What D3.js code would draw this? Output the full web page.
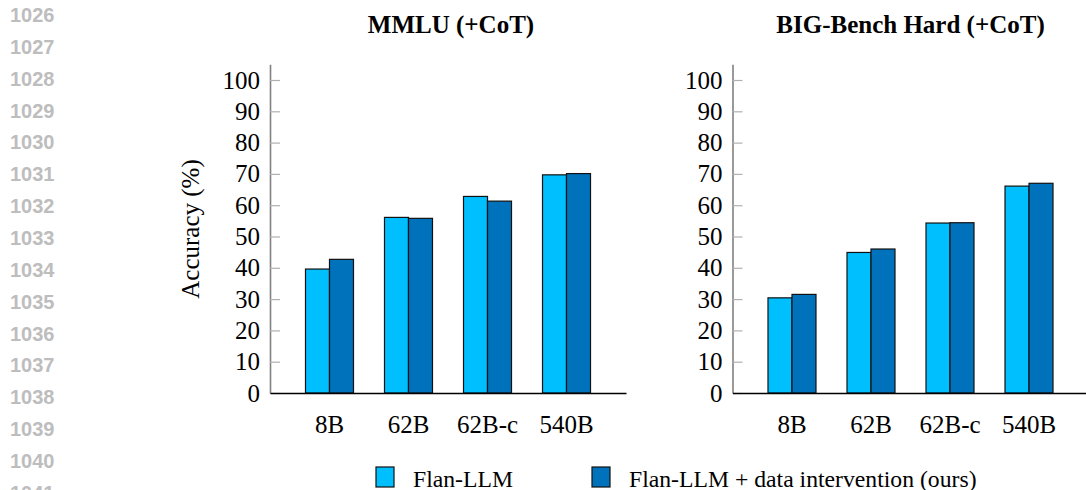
<!DOCTYPE html>
<html>
<head>
<meta charset="utf-8">
<script src="https://cdn.jsdelivr.net/npm/d3@7"></script>
<style>
  html, body { margin: 0; padding: 0; background: #fff; }
  svg { display: block; }
</style>
</head>
<body>
<svg id="chart" width="1086" height="490"></svg>
<script>
// Model sizes shown on the x axis
const categories = ["8B", "62B", "62B-c", "540B"];
const seriesNames = ["Flan-LLM", "Flan-LLM + data intervention (ours)"];
const yTicks = [0, 10, 20, 30, 40, 50, 60, 70, 80, 90, 100];
const lineNumbers = [1026, 1027, 1028, 1029, 1030, 1031, 1032, 1033, 1034, 1035, 1036, 1037, 1038, 1039, 1040, 1041];

// Accuracy (%) per benchmark
const mmluBase = [39.6, 56.1, 62.8, 69.7];
const mmluOurs = [42.7, 55.8, 61.3, 70.1];
const bbhBase = [30.4, 44.9, 54.3, 66.1];
const bbhOurs = [31.5, 46.0, 54.4, 67.0];

const panels = [
  { title: "MMLU (+CoT)", base: mmluBase, ours: mmluOurs, left: 270, titleX: 181, showLabel: true },
  { title: "BIG-Bench Hard (+CoT)", base: bbhBase, ours: bbhOurs, left: 732.5, titleX: 178, showLabel: false }
];

const colors = ["#00bfff", "#0072bb"];
const serif = "'Liberation Serif', 'Times New Roman', serif";

const svg = d3.select("#chart");

// Margin line numbers
svg.append("g").selectAll("text")
  .data(lineNumbers)
  .join("text")
  .attr("x", 10)
  .attr("y", (d, i) => 22 + i * 31.86)
  .attr("font-family", "'Liberation Sans', Arial, sans-serif")
  .attr("font-weight", "bold")
  .attr("font-size", 20)
  .attr("fill", "#bdbdbd")
  .text(d => d);

const panelWidth = 356;
const y = d3.scaleLinear().domain([0, 105]).range([393, 64.35]);
const x0 = d3.scaleBand().domain(categories).range([0, panelWidth]).paddingOuter(0.253).paddingInner(0);
const x1 = d3.scaleBand().domain([0, 1]).range([x0.bandwidth() / 2 - 24, x0.bandwidth() / 2 + 24]);

panels.forEach(p => {
  const g = svg.append("g").attr("transform", `translate(${p.left},0)`);

  // Title
  g.append("text")
    .attr("x", p.titleX)
    .attr("y", 33)
    .attr("text-anchor", "middle")
    .attr("font-family", serif)
    .attr("font-weight", "bold")
    .attr("font-size", 25)
    .text(p.title);

  // Y axis with ticks pointing inward
  const yAxis = g.append("g")
    .call(d3.axisLeft(y).tickValues(yTicks).tickSizeInner(-10).tickSizeOuter(0).tickPadding(10));
  yAxis.select(".domain").attr("stroke", "#808080").attr("stroke-width", 1.6);
  yAxis.selectAll(".tick line").attr("stroke", "#b0b0b0").attr("stroke-width", 1.2);
  yAxis.selectAll(".tick text")
    .attr("font-family", serif)
    .attr("font-size", 25)
    .attr("fill", "#000");

  // Bars
  const groups = g.append("g").selectAll("g")
    .data(categories)
    .join("g")
    .attr("transform", d => `translate(${x0(d)},0)`);
  groups.selectAll("rect")
    .data((d, i) => [p.base[i], p.ours[i]])
    .join("rect")
    .attr("x", (d, j) => x1(j))
    .attr("y", d => y(d))
    .attr("width", x1.bandwidth())
    .attr("height", d => y(0) - y(d))
    .attr("fill", (d, j) => colors[j])
    .attr("stroke", "#111")
    .attr("stroke-width", 1.2);

  // X axis
  const xAxis = g.append("g")
    .attr("transform", `translate(0,${y(0)})`)
    .call(d3.axisBottom(x0).tickSize(0).tickPadding(22));
  xAxis.select(".domain").attr("stroke", "#000").attr("stroke-width", 1.6);
  xAxis.selectAll(".tick text")
    .attr("font-family", serif)
    .attr("font-size", 25)
    .attr("fill", "#000");

  if (p.showLabel) {
    g.append("text")
      .attr("transform", `translate(${190 - p.left},229) rotate(-90)`)
      .attr("text-anchor", "middle")
      .attr("dominant-baseline", "central")
      .attr("font-family", serif)
      .attr("font-size", 25)
      .text("Accuracy (%)");
  }
});

// Legend
const legendItems = [
  { name: seriesNames[0], color: colors[0], x: 376 },
  { name: seriesNames[1], color: colors[1], x: 592 }
];
const legend = svg.append("g");
legendItems.forEach(item => {
  legend.append("rect")
    .attr("x", item.x)
    .attr("y", 467)
    .attr("width", 18)
    .attr("height", 20)
    .attr("fill", item.color)
    .attr("stroke", "#111")
    .attr("stroke-width", 1.2);
  legend.append("text")
    .attr("x", item.x + 37)
    .attr("y", 487)
    .attr("font-family", serif)
    .attr("font-size", 23.7)
    .text(item.name);
});
</script>
</body>
</html>
